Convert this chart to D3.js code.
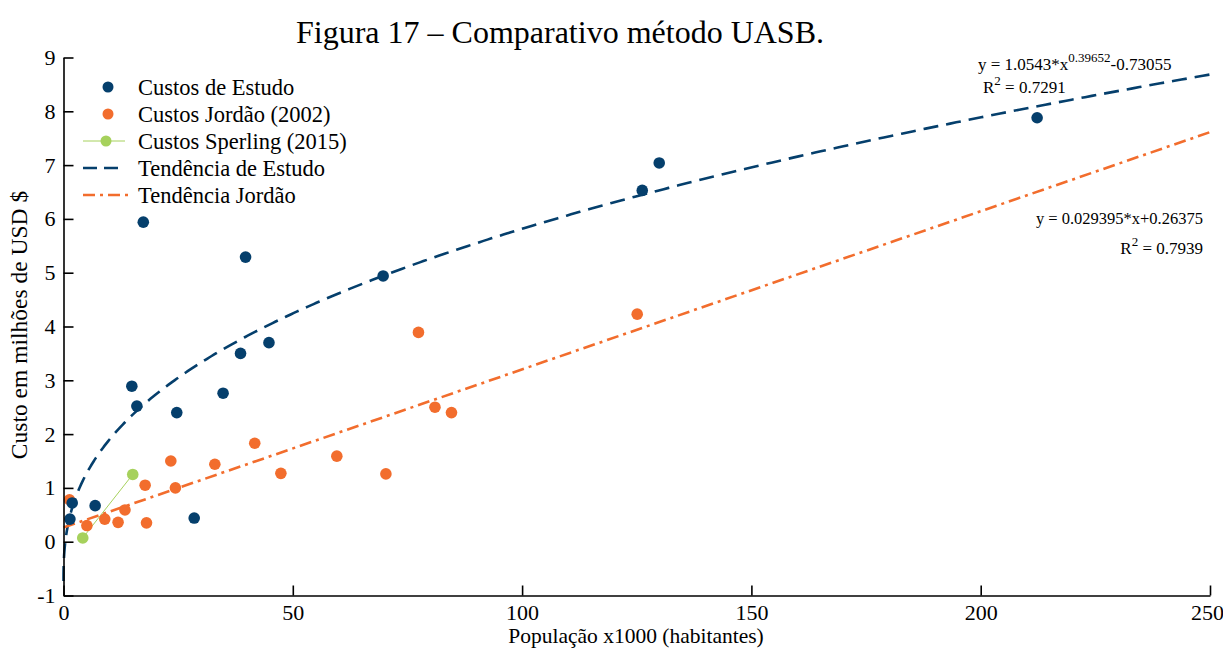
<!DOCTYPE html>
<html>
<head>
<meta charset="utf-8">
<script src="https://cdn.jsdelivr.net/npm/d3@7/dist/d3.min.js"></script>
<style>
  html, body { margin: 0; padding: 0; background: #fff; }
  svg { display: block; font-family: "Liberation Serif", "Times New Roman", serif; }
</style>
</head>
<body>
<svg id="chart" width="1223" height="649"></svg>
<script>
// Custos de Estudo (população x1000, custo em milhões USD)
const estudoX = [1.4, 1.9, 6.9, 14.9, 16.0, 17.4, 24.7, 28.5, 34.8, 38.6, 39.7, 44.8, 69.7, 126.2, 129.9, 212.3];
const estudoY = [0.42, 0.72, 0.67, 2.89, 2.52, 5.94, 2.40, 0.44, 2.76, 3.50, 5.29, 3.70, 4.94, 6.53, 7.04, 7.88];

// Custos Jordão (2002)
const jordaoX = [1.3, 5.1, 9.0, 11.9, 13.4, 17.8, 18.1, 23.4, 24.4, 33.0, 41.7, 47.4, 59.6, 70.3, 77.4, 81.0, 84.6, 125.1];
const jordaoY = [0.78, 0.30, 0.42, 0.36, 0.59, 1.05, 0.35, 1.50, 1.00, 1.44, 1.83, 1.27, 1.59, 1.26, 3.89, 2.50, 2.40, 4.23];

// Custos Sperling (2015)
const sperlingX = [4.2, 15.1];
const sperlingY = [0.07, 1.25];

// Trend equations: y = a*x^b + c  and  y = m*x + q
const powCoef = [1.0543, 0.39652, -0.73055];
const linCoef = [0.029395, 0.26375];
const r2Values = ["0.7291", "0.7939"];

const xTicks = [0, 50, 100, 150, 200, 250];
const yTicks = [-1, 0, 1, 2, 3, 4, 5, 6, 7, 8, 9];

const legendLabels = ["Custos de Estudo", "Custos Jordão (2002)", "Custos Sperling (2015)", "Tendência de Estudo", "Tendência Jordão"];

const colBlue = "#053f6c";
const colOrange = "#f26d2d";
const colGreen = "#a6d15c";

const svg = d3.select("#chart");
const m = { left: 63.5, right: 13, top: 57.5, bottom: 53.5 };
const W = 1223, H = 649;

const x = d3.scaleLinear().domain([0, 250]).range([m.left, W - m.right]);
const y = d3.scaleLinear().domain([-1, 9]).range([H - m.bottom, m.top]);

// Title
svg.append("text")
  .attr("x", 560).attr("y", 43)
  .attr("text-anchor", "middle")
  .attr("font-size", 32)
  .text("Figura 17 – Comparativo método UASB.");

// Trend lines
const powFn = v => powCoef[0] * Math.pow(v, powCoef[1]) + powCoef[2];
const linFn = v => linCoef[0] * v + linCoef[1];

const powSamples = d3.range(0, 400).map(i => 250 * Math.pow(i / 399, 2.5));
svg.append("path")
  .datum(powSamples)
  .attr("fill", "none")
  .attr("stroke", colBlue)
  .attr("stroke-width", 2.6)
  .attr("stroke-dasharray", "15,8")
  .attr("d", d3.line().x(d => x(d)).y(d => y(powFn(d))));

svg.append("path")
  .datum([0, 250])
  .attr("fill", "none")
  .attr("stroke", colOrange)
  .attr("stroke-width", 2.6)
  .attr("stroke-dasharray", "12,5,3,5")
  .attr("d", d3.line().x(d => x(d)).y(d => y(linFn(d))));

// Sperling connecting line
svg.append("path")
  .datum(d3.zip(sperlingX, sperlingY))
  .attr("fill", "none")
  .attr("stroke", colGreen)
  .attr("stroke-width", 1)
  .attr("d", d3.line().x(d => x(d[0])).y(d => y(d[1])));

// Points
function drawPoints(xs, ys, color) {
  svg.append("g").selectAll("circle")
    .data(d3.zip(xs, ys))
    .join("circle")
    .attr("cx", d => x(d[0]))
    .attr("cy", d => y(d[1]))
    .attr("r", 5.8)
    .attr("fill", color);
}
drawPoints(jordaoX, jordaoY, colOrange);
drawPoints(sperlingX, sperlingY, colGreen);
drawPoints(estudoX, estudoY, colBlue);

// Axes
const fmt = d => String(d);
const xAxis = svg.append("g")
  .attr("transform", `translate(0,${H - m.bottom})`)
  .call(d3.axisBottom(x).tickValues(xTicks).tickFormat(fmt).tickSizeInner(-10).tickSizeOuter(0).tickPadding(9));
const yAxis = svg.append("g")
  .attr("transform", `translate(${m.left},0)`)
  .call(d3.axisLeft(y).tickValues(yTicks).tickFormat(fmt).tickSizeInner(-10).tickSizeOuter(0).tickPadding(8));

[xAxis, yAxis].forEach(a => {
  a.select(".domain").attr("stroke", "#000").attr("stroke-width", 1.6);
  a.selectAll(".tick line").attr("stroke", "#000").attr("stroke-width", 1.6);
  a.selectAll(".tick text").attr("font-size", 22).attr("fill", "#000")
    .attr("font-family", "Liberation Serif, serif");
});
// keep the last x label inside the frame
xAxis.selectAll(".tick text").filter(d => d === 250).attr("dx", -3);

// Axis titles
svg.append("text")
  .attr("x", 636).attr("y", 643)
  .attr("text-anchor", "middle")
  .attr("font-size", 21.5)
  .text("População x1000 (habitantes)");

svg.append("text")
  .attr("transform", "translate(27,325) rotate(-90)")
  .attr("text-anchor", "middle")
  .attr("font-size", 23.5)
  .text("Custo em milhões de USD $");

// Legend
const lg = svg.append("g");
const rowY = [87, 114, 141, 168, 195];
legendLabels.forEach((lab, i) => {
  const yy = rowY[i];
  if (i === 0 || i === 1) {
    lg.append("circle").attr("cx", 108).attr("cy", yy).attr("r", 5.5)
      .attr("fill", i === 0 ? colBlue : colOrange);
  } else if (i === 2) {
    lg.append("line").attr("x1", 83).attr("x2", 125).attr("y1", yy).attr("y2", yy)
      .attr("stroke", colGreen).attr("stroke-width", 1);
    lg.append("circle").attr("cx", 106).attr("cy", yy).attr("r", 5.5).attr("fill", colGreen);
  } else if (i === 3) {
    lg.append("line").attr("x1", 83).attr("x2", 125).attr("y1", yy).attr("y2", yy)
      .attr("stroke", colBlue).attr("stroke-width", 2.6).attr("stroke-dasharray", "14,7");
  } else {
    lg.append("line").attr("x1", 83).attr("x2", 129).attr("y1", yy).attr("y2", yy)
      .attr("stroke", colOrange).attr("stroke-width", 2.6).attr("stroke-dasharray", "12,5,3,5");
  }
  lg.append("text").attr("x", 138).attr("y", yy + 7.5).attr("font-size", 22.5).text(lab);
});

// Equation annotations
const eq1 = svg.append("text").attr("x", 978).attr("y", 70).attr("font-size", 17);
eq1.append("tspan").text(`y = ${powCoef[0]}*x`);
eq1.append("tspan").attr("dy", -8).attr("font-size", 13).text(powCoef[1]);
eq1.append("tspan").attr("dy", 8).text(`${powCoef[2]}`);

const r1 = svg.append("text").attr("x", 983).attr("y", 93).attr("font-size", 17);
r1.append("tspan").text("R");
r1.append("tspan").attr("dy", -8).attr("font-size", 13).text("2");
r1.append("tspan").attr("dy", 8).text(` = ${r2Values[0]}`);

svg.append("text").attr("x", 1203).attr("y", 224).attr("font-size", 16.5)
  .attr("text-anchor", "end")
  .text(`y = ${linCoef[0]}*x+${linCoef[1]}`);

const r2 = svg.append("text").attr("x", 1203).attr("y", 254).attr("font-size", 17)
  .attr("text-anchor", "end");
r2.append("tspan").text("R");
r2.append("tspan").attr("dy", -8).attr("font-size", 13).text("2");
r2.append("tspan").attr("dy", 8).text(` = ${r2Values[1]}`);
</script>
</body>
</html>
